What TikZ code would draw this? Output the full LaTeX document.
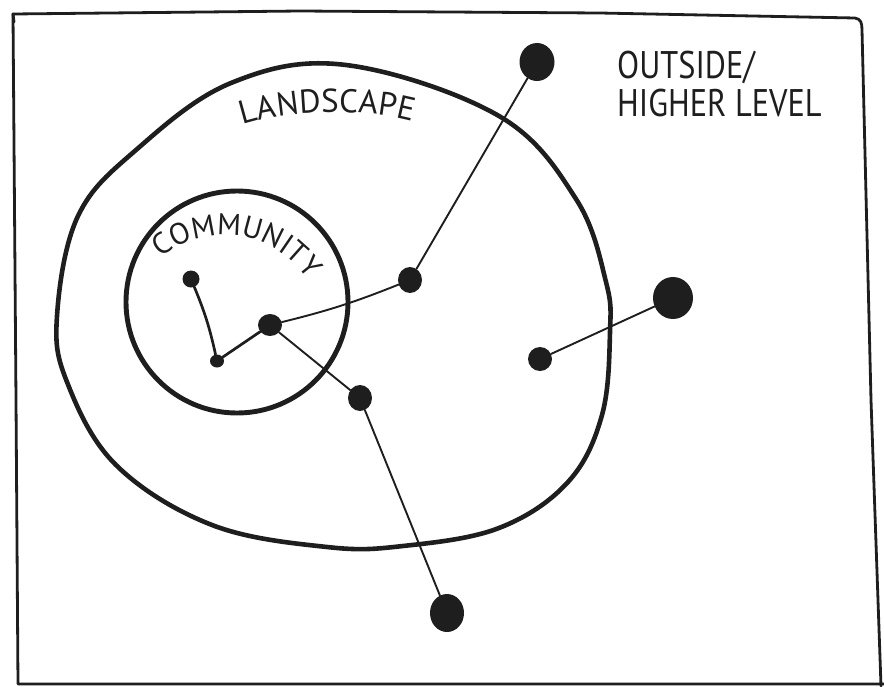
\documentclass[tikz,border=0pt]{standalone}
\usepackage{fontspec}
\setmainfont{PT Sans}
\newfontfamily\hand[FakeStretch=0.84]{PT Sans}
\newfontfamily\archand{PT Sans}
\newcommand\landfont{\archand\fontsize{33}{33}\selectfont}
\newcommand\commfont{\archand\fontsize{30}{30}\selectfont}
\usetikzlibrary{shapes.geometric,decorations.text}
\definecolor{ink}{HTML}{1E1E1E}
\begin{document}
\begin{tikzpicture}[x=1pt,y=1pt,line join=round,line cap=round,
  dot/.style={ellipse,fill=ink,draw=none,inner sep=0pt},
  link/.style={draw=ink,line width=1.9pt},
  thicklink/.style={draw=ink,line width=2.7pt},
  ring/.style={draw=ink,line width=4.6pt},
  frame/.style={draw=ink,line width=2.8pt},
  label/.style={text=ink,inner sep=0pt}]
\useasboundingbox (0,0) rectangle (884,-686);
% frame
\draw[frame] (14,-22) -- (13,-14) -- (300,-11) -- (600,-13) -- (855,-18)
  .. controls (861,-19) and (862,-23) .. (862,-30) -- (871,-400) -- (881,-686);
\draw[frame] (13,-14) -- (16,-400) -- (18,-684) -- (884,-684);
% landscape
\draw[ring] plot[smooth cycle,tension=0.62] coordinates {
  (346,-65) (499,-116) (576,-199) (606,-282) (610,-332) (602,-415)
  (568,-482) (499,-528) (403,-546) (327,-547) (212,-525) (116,-465)
  (67,-382) (57,-316) (78,-216) (136,-150) (231,-83)};
% community
\draw[ring,line width=4.9pt] (237,-302) circle[radius=111];
% texts
\path[decorate,font=\landfont,decoration={text along path,text align=center,
  text={|\landfont\color{ink}|LANDSCAPE}}]
  (243,-125) .. controls (290,-110) and (365,-108) .. (412,-121);
\path[decorate,font=\commfont,decoration={text along path,text align=center,
  text={|\commfont\color{ink}|COMMUNITY}}]
  (224,-336) ++(130:101) arc[start angle=130,end angle=33,radius=101];
\node[label,anchor=north west,align=left,font=\hand\fontsize{38.5}{38}\selectfont]
  (outside) at (617,-51) {OUTSIDE/\\HIGHER LEVEL};
% nodes
\node[dot,minimum width=17pt,minimum height=17pt] (A) at (191,-279) {};
\node[dot,minimum width=14pt,minimum height=13pt] (B) at (217,-361) {};
\node[dot,minimum width=24pt,minimum height=22pt] (C) at (270,-325) {};
\node[dot,minimum width=24pt,minimum height=26pt] (D) at (410,-280) {};
\node[dot,minimum width=24pt,minimum height=26pt] (E) at (360,-398) {};
\node[dot,minimum width=24pt,minimum height=24pt] (F) at (540,-359) {};
\node[dot,minimum width=40pt,minimum height=42pt] (G) at (673,-298) {};
\node[dot,minimum width=35pt,minimum height=38pt] (H) at (537,-62) {};
\node[dot,minimum width=34pt,minimum height=38pt] (I) at (447,-613) {};
% connectors
\draw[thicklink] (A) to[bend left=5] (B);
\draw[thicklink] (B) -- (C);
\draw[link] (C) to[bend right=4] (D);
\draw[link] (D) -- (H);
\draw[link] (C) -- (E);
\draw[link] (E) -- (I);
\draw[link] (F) -- (G);
\end{tikzpicture}
\end{document}
